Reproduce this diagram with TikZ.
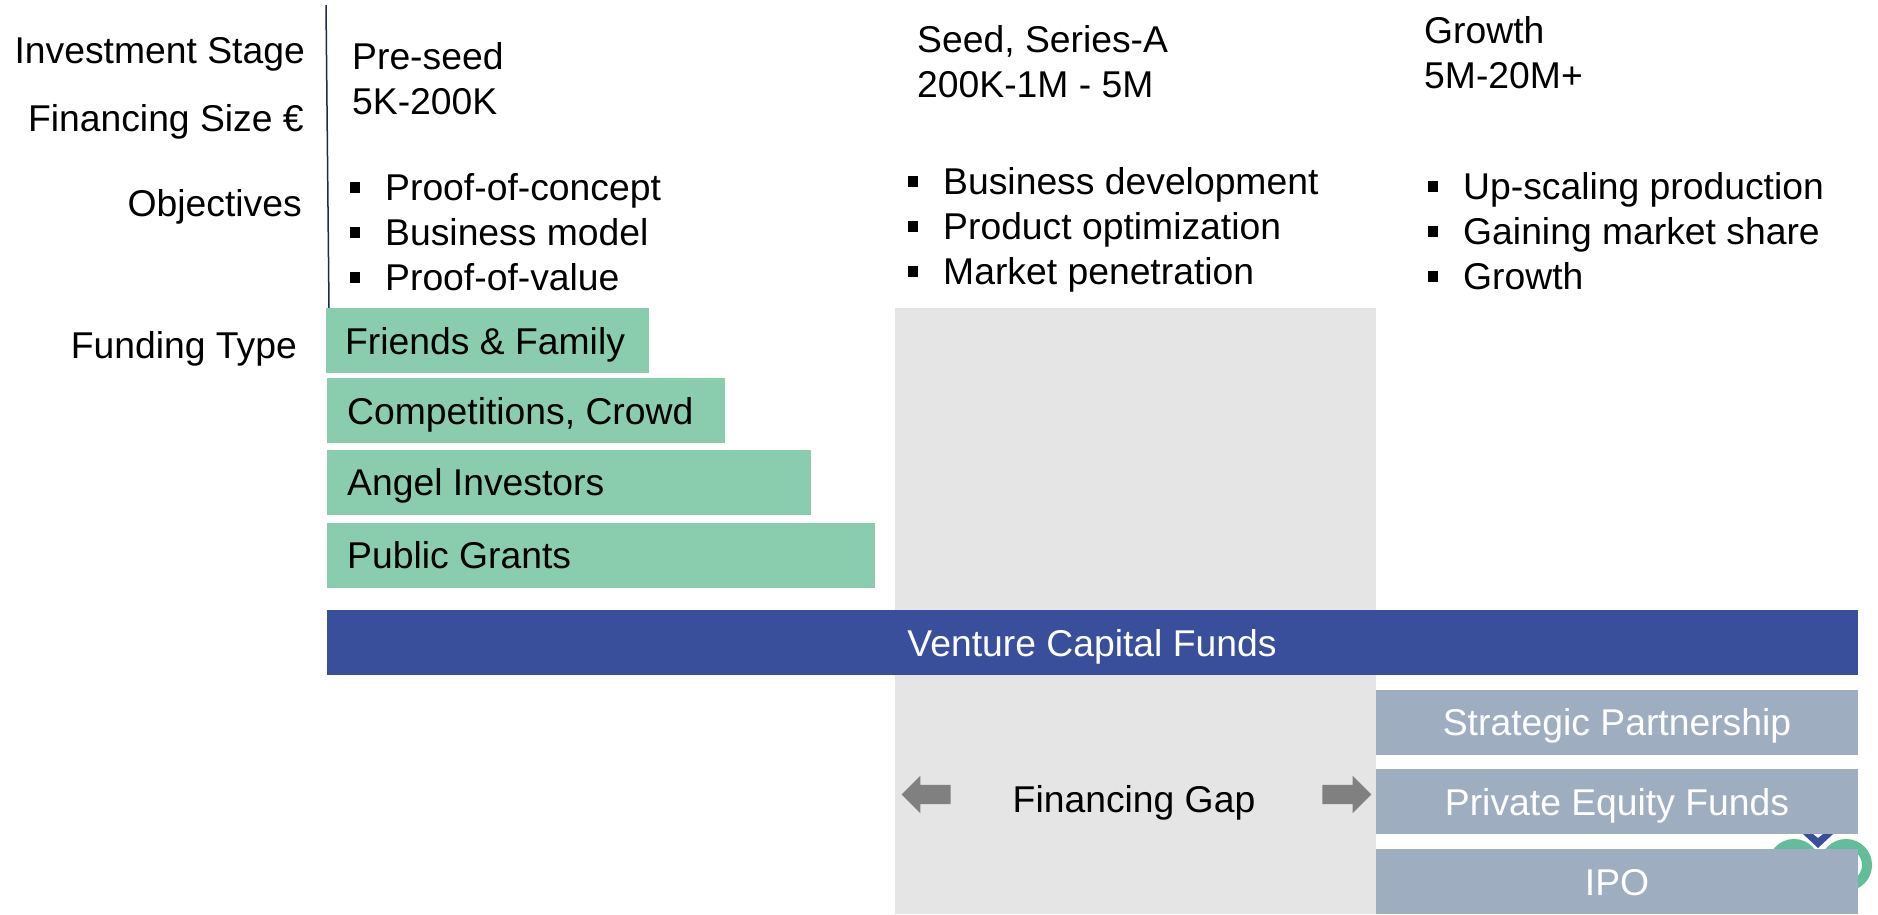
\documentclass[tikz,border=0pt]{standalone}
\usepackage{fontspec}
\setmainfont{Liberation Sans}
\usetikzlibrary{shapes.arrows}
\definecolor{fundgreen}{HTML}{8ACDAE}
\definecolor{fundnavy}{HTML}{3A4F9C}
\definecolor{fundslate}{HTML}{9FADC0}
\definecolor{gapgrey}{HTML}{E5E5E6}
\definecolor{logogreen}{HTML}{62BE98}
\definecolor{axisnavy}{HTML}{1F2A44}
\tikzset{
  lbl/.style={inner sep=0pt,font=\fontsize{37.3}{45}\selectfont,text=black},
  stagelbl/.style={lbl,anchor=north west,align=left},
  rowlbl/.style={lbl,anchor=base east},
  bullets/.style={lbl,anchor=base west},
  bar/.style={inner sep=0pt,anchor=north west},
  gaparrow/.style={single arrow,fill=black!50,inner sep=0pt,text height=19pt,
    minimum width=37pt,minimum height=49pt,single arrow head extend=9pt,
    single arrow head indent=0pt}
}
\begin{document}
\begin{tikzpicture}[x=1pt,y=-1pt]
  \useasboundingbox (0,0) rectangle (1878,914);

  %%%%  Gap
  \node[bar,fill=gapgrey,minimum width=481pt,minimum height=606pt] (gap) at (895,308) {};

  %%%%  Logo
  \draw[logogreen,line width=10pt] (1794,865) circle (21pt);
  \draw[logogreen,line width=10pt] (1846,865) circle (21pt);
  \fill[fundnavy] (1803,834) -- (1818,848) -- (1833,834) -- (1823,834) -- (1818,838) -- (1813,834) -- cycle;

  %%%%  Axis
  \coordinate (axistop) at (326,5);
  \coordinate (axisbot) at (329,308);
  \draw[axisnavy,line width=1.5pt] (axistop) -- (axisbot);

  %%%%  Left labels
  \node[rowlbl] (stage) at (305,63) {Investment Stage};
  \node[rowlbl] (size) at (304,131) {Financing Size €};
  \node[rowlbl] (obj) at (302,216) {Objectives};
  \node[rowlbl] (ftype) at (297,358) {Funding Type};

  %%%%  Stages
  \node[stagelbl] (preseed) at (352,42) {Pre-seed\\5K-200K};
  \node[stagelbl] (seed) at (917,25) {Seed, Series-A\\200K-1M - 5M};
  \node[stagelbl] (growth) at (1424,16) {Growth\\5M-20M+};

  %%%%  Objectives
  \foreach \x/\y/\name/\txt in {
      385/200/pa/Proof-of-concept, 385/245/pb/Business model, 385/290/pc/Proof-of-value,
      943/194/sa/Business development, 943/239/sb/Product optimization, 943/284/sc/Market penetration,
      1463/199/ga/Up-scaling production, 1463/244/gb/Gaining market share, 1463/289/gc/Growth}
  {\node[bullets] (\name) at (\x,\y) {\txt};
   \fill[black] (\x-35,\y-18) rectangle +(10,11);
  };

  %%%%  Funding bars
  \node[bar,fill=fundgreen,minimum width=323pt,minimum height=65pt] (friends) at (326,308) {};
  \node[bar,fill=fundgreen,minimum width=398pt,minimum height=65pt] (comp) at (327,378) {};
  \node[bar,fill=fundgreen,minimum width=484pt,minimum height=65pt] (angel) at (327,450) {};
  \node[bar,fill=fundgreen,minimum width=548pt,minimum height=65pt] (grants) at (327,523) {};
  \node[lbl,anchor=base west] at (345,354) {Friends \& Family};
  \node[lbl,anchor=base west] at (347,424) {Competitions, Crowd};
  \node[lbl,anchor=base west] at (347,495) {Angel Investors};
  \node[lbl,anchor=base west] at (347,568) {Public Grants};

  %%%%  Funds
  \node[bar,fill=fundnavy,minimum width=1531pt,minimum height=65pt] (vc) at (327,610) {};
  \node[lbl,text=white,anchor=base] at (1092,656) {Venture Capital Funds};
  \node[bar,fill=fundslate,minimum width=482pt,minimum height=65pt] (partner) at (1376,690) {};
  \node[bar,fill=fundslate,minimum width=482pt,minimum height=65pt] (equity) at (1376,769) {};
  \node[bar,fill=fundslate,minimum width=482pt,minimum height=65pt] (ipo) at (1376,849) {};
  \node[lbl,text=white,anchor=base] at (1617,735) {Strategic Partnership};
  \node[lbl,text=white,anchor=base] at (1617,815) {Private Equity Funds};
  \node[lbl,text=white,anchor=base] at (1617,895) {IPO};

  %%%%  Financing gap
  \node[lbl,anchor=base] (gaplbl) at (1134,812) {Financing Gap};
  \node[gaparrow,shape border rotate=180] (gapleft) at (931,794.5) {};
  \node[gaparrow] (gapright) at (1342,794.5) {};
\end{tikzpicture}
\end{document}
